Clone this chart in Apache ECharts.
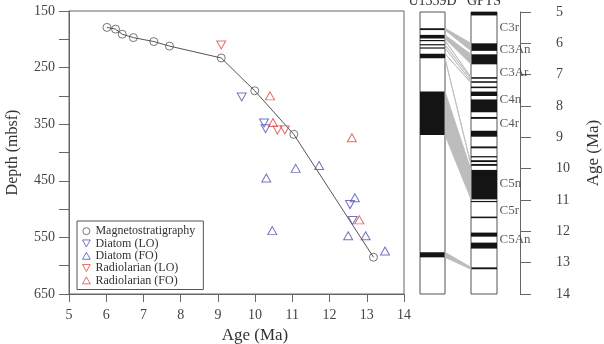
<!DOCTYPE html>
<html>
<head>
<meta charset="utf-8">
<script src="https://cdn.jsdelivr.net/npm/echarts@6/dist/echarts.min.js"></script>
<style>
html,body{margin:0;padding:0;background:#fff;}
#chart{width:604px;height:344px;}
</style>
</head>
<body>
<div id="chart"></div>
<script>
var FONT = '"Liberation Serif","Times New Roman",serif';

// magnetostratigraphic tie points (age Ma, depth mbsf)
var magAge = [6.02, 6.25, 6.43, 6.73, 7.28, 7.70, 9.09, 9.99, 11.04, 13.18];
var magDepth = [179, 182, 191, 197, 204, 212, 233, 291, 368, 585];

// biostratigraphic datums [age, depth]
var diatomLO = [[9.64, 302], [10.24, 348], [10.28, 358], [12.55, 492], [12.62, 520]];
var diatomFO = [[11.09, 428], [11.72, 423], [10.30, 445], [12.68, 480], [10.46, 538], [12.50, 547], [12.97, 547], [13.49, 574]];
var radLO = [[9.09, 210], [10.60, 360], [10.80, 360]];
var radFO = [[10.40, 300], [10.48, 347], [12.60, 374], [12.80, 519]];

// U1359D normal polarity intervals (depth top, bottom)
var coreBands = [[178.8, 182], [190.6, 197], [199.6, 201.6], [207, 209], [212.8, 214.8], [224, 232], [291, 368], [576, 585]];

// GPTS normal chrons (age top, bottom)
var gptsBands = [[5.00, 5.11], [6.00, 6.24], [6.35, 6.67], [7.08, 7.13], [7.21, 7.26], [7.38, 7.43], [7.54, 7.68],
  [7.79, 8.20], [8.35, 8.41], [8.79, 8.98], [9.29, 9.35], [9.60, 9.64], [9.73, 9.79], [9.85, 9.91],
  [10.04, 10.98], [11.03, 11.06], [11.53, 11.58], [12.04, 12.17], [12.36, 12.55], [13.15, 13.21]];
var gptsLabels = ['C3r', 'C3An', 'C3Ar', 'C4n', 'C4r', 'C5n', 'C5r', 'C5An'];
var gptsLabelAge = [5.51, 6.21, 6.93, 7.81, 8.55, 10.49, 11.34, 12.26];

// correlation ties: depth top, depth bottom, age top, age bottom
var ties = [[178.8, 182, 6.00, 6.24], [190.6, 197, 6.35, 6.67], [200.6, 200.6, 7.08, 7.08], [208, 208, 7.13, 7.13],
  [213.8, 213.8, 7.21, 7.21], [224, 224, 7.26, 7.26], [232, 232, 9.88, 9.88], [291, 368, 10.04, 10.98], [576, 585, 13.15, 13.21]];

var blue = '#5252b0', red = '#e0473f', gray = '#555';
var downTri = 'path://M0,0L10,0L5,9Z';
var upTri = 'path://M5,0L10,9L0,9Z';

function depthToAge(d) {
  // both column grids share the same pixel height
  return 5 + (d - 150) * 9 / 500;
}

function bandItem(params, api) {
  var p1 = api.coord([0, api.value(0)]);
  var p2 = api.coord([1, api.value(1)]);
  return {
    type: 'rect',
    shape: {x: p1[0], y: p1[1], width: p2[0] - p1[0], height: Math.max(p2[1] - p1[1], 1.2)},
    style: {fill: '#141414'}
  };
}

function tieItem(params, api) {
  var a = api.coord([0, depthToAge(api.value(0))]);
  var b = api.coord([0, depthToAge(api.value(1))]);
  var c = api.coord([1, api.value(2)]);
  var d = api.coord([1, api.value(3)]);
  return {
    type: 'polygon',
    shape: {points: [a, c, d, b]},
    style: {fill: '#bcbcbc', stroke: '#bcbcbc', lineWidth: 0.9}
  };
}

var magData = [];
for (var i = 0; i < magAge.length; i++) magData.push([magAge[i], magDepth[i]]);

var colAxisBase = function(name, idx) {
  return {
    type: 'value', gridIndex: idx, min: 0, max: 1, position: 'top',
    name: name, nameLocation: 'middle', nameGap: 4,
    nameTextStyle: {fontFamily: FONT, fontSize: 14, color: '#333', verticalAlign: 'bottom'},
    axisLine: {show: false}, axisTick: {show: false}, axisLabel: {show: false}, splitLine: {show: false}
  };
};

function legendItem(name, icon, color) {
  return {name: name, icon: icon, itemStyle: {color: 'rgba(255,255,255,0)', borderColor: color, borderWidth: 1}};
}

var chart = echarts.init(document.getElementById('chart'));
var option = {
  animation: false,
  backgroundColor: '#fff',
  grid: [
    {left: 69, top: 11, width: 335, height: 283, show: true, borderColor: '#666', borderWidth: 1, outerBoundsMode: 'none'},
    {left: 420, top: 12, width: 25, height: 282, show: true, borderColor: '#555', borderWidth: 1, outerBoundsMode: 'none'},
    {left: 471, top: 12, width: 26, height: 282, show: true, borderColor: '#555', borderWidth: 1, outerBoundsMode: 'none'},
    {left: 445, top: 12, width: 26, height: 282, outerBoundsMode: 'none'},
    {left: 520, top: 12, width: 13, height: 282, outerBoundsMode: 'none'}
  ],
  legend: {
    orient: 'vertical', left: 77, top: 221,
    padding: [4, 8, 3, 5], itemGap: 0, itemWidth: 8, itemHeight: 7,
    borderColor: '#555', borderWidth: 1, borderRadius: 0,
    textStyle: {fontFamily: FONT, fontSize: 12, color: '#333', lineHeight: 12.3},
    data: [
      legendItem('Magnetostratigraphy', 'circle', gray),
      legendItem('Diatom (LO)', downTri, blue),
      legendItem('Diatom (FO)', upTri, blue),
      legendItem('Radiolarian (LO)', downTri, red),
      legendItem('Radiolarian (FO)', upTri, red)
    ]
  },
  xAxis: [
    {
      type: 'value', gridIndex: 0, min: 5, max: 14, interval: 1,
      name: 'Age (Ma)', nameLocation: 'middle', nameGap: 33,
      nameTextStyle: {fontFamily: FONT, fontSize: 17, color: '#333', padding: [0, 0, 0, 37]},
      axisLine: {lineStyle: {color: '#666'}},
      axisTick: {length: 8, lineStyle: {color: '#666'}},
      axisLabel: {fontFamily: FONT, fontSize: 14, color: '#444', margin: 14},
      splitLine: {show: false}
    },
    colAxisBase('U1359D', 1),
    colAxisBase('GPTS', 2),
    {type: 'value', gridIndex: 3, min: 0, max: 1, show: false},
    {type: 'value', gridIndex: 4, min: 0, max: 1, show: false}
  ],
  yAxis: [
    {
      type: 'value', gridIndex: 0, min: 150, max: 650, interval: 50, inverse: true,
      name: 'Depth (mbsf)', nameLocation: 'middle', nameGap: 48,
      nameTextStyle: {fontFamily: FONT, fontSize: 16, color: '#333'},
      axisLine: {show: true, lineStyle: {color: '#666'}},
      axisTick: {length: 10, lineStyle: {color: '#666'}},
      axisLabel: {
        fontFamily: FONT, fontSize: 14, color: '#444', margin: 14,
        formatter: function(v) { return (v - 150) % 100 === 0 ? v : ''; }
      },
      splitLine: {show: false}
    },
    {type: 'value', gridIndex: 1, min: 150, max: 650, inverse: true, show: false},
    {type: 'value', gridIndex: 2, min: 5, max: 14, inverse: true, show: false},
    {type: 'value', gridIndex: 3, min: 5, max: 14, inverse: true, show: false},
    {
      type: 'value', gridIndex: 4, min: 5, max: 14, interval: 1, inverse: true, position: 'right',
      name: 'Age (Ma)', nameLocation: 'middle', nameGap: 52, nameRotate: 90,
      nameTextStyle: {fontFamily: FONT, fontSize: 17, color: '#333'},
      axisLine: {show: true, lineStyle: {color: '#666'}},
      axisTick: {length: 11, lineStyle: {color: '#666'}},
      axisLabel: {fontFamily: FONT, fontSize: 14, color: '#444', margin: 23},
      splitLine: {show: false}
    }
  ],
  series: [
    {
      type: 'line', xAxisIndex: 0, yAxisIndex: 0, data: magData, showSymbol: false,
      lineStyle: {color: gray, width: 1}, silent: true, z: 2
    },
    {
      name: 'Magnetostratigraphy', type: 'scatter', xAxisIndex: 0, yAxisIndex: 0, data: magData,
      symbol: 'circle', symbolSize: 8,
      itemStyle: {color: 'rgba(255,255,255,0)', borderColor: gray, borderWidth: 1}, z: 3
    },
    {
      name: 'Diatom (LO)', type: 'scatter', xAxisIndex: 0, yAxisIndex: 0, data: diatomLO,
      symbol: downTri, symbolSize: [9, 8],
      itemStyle: {color: 'rgba(255,255,255,0)', borderColor: blue, borderWidth: 1}
    },
    {
      name: 'Diatom (FO)', type: 'scatter', xAxisIndex: 0, yAxisIndex: 0, data: diatomFO,
      symbol: upTri, symbolSize: [9, 8],
      itemStyle: {color: 'rgba(255,255,255,0)', borderColor: blue, borderWidth: 1}
    },
    {
      name: 'Radiolarian (LO)', type: 'scatter', xAxisIndex: 0, yAxisIndex: 0, data: radLO,
      symbol: downTri, symbolSize: [9, 8],
      itemStyle: {color: 'rgba(255,255,255,0)', borderColor: red, borderWidth: 1}
    },
    {
      name: 'Radiolarian (FO)', type: 'scatter', xAxisIndex: 0, yAxisIndex: 0, data: radFO,
      symbol: upTri, symbolSize: [9, 8],
      itemStyle: {color: 'rgba(255,255,255,0)', borderColor: red, borderWidth: 1}
    },
    {type: 'custom', xAxisIndex: 1, yAxisIndex: 1, data: coreBands, renderItem: bandItem, silent: true},
    {type: 'custom', xAxisIndex: 2, yAxisIndex: 2, data: gptsBands, renderItem: bandItem, silent: true},
    {type: 'custom', xAxisIndex: 3, yAxisIndex: 3, data: ties, renderItem: tieItem, silent: true},
    {
      type: 'scatter', xAxisIndex: 2, yAxisIndex: 2, symbolSize: 1, silent: true,
      itemStyle: {color: 'rgba(0,0,0,0)'},
      data: gptsLabelAge.map(function(a, k) { return {value: [1, a], name: gptsLabels[k]}; }),
      label: {show: true, position: 'right', distance: 2, formatter: '{b}', fontFamily: FONT, fontSize: 13, color: '#333'}
    }
  ]
};
chart.setOption(option);
</script>
</body>
</html>
